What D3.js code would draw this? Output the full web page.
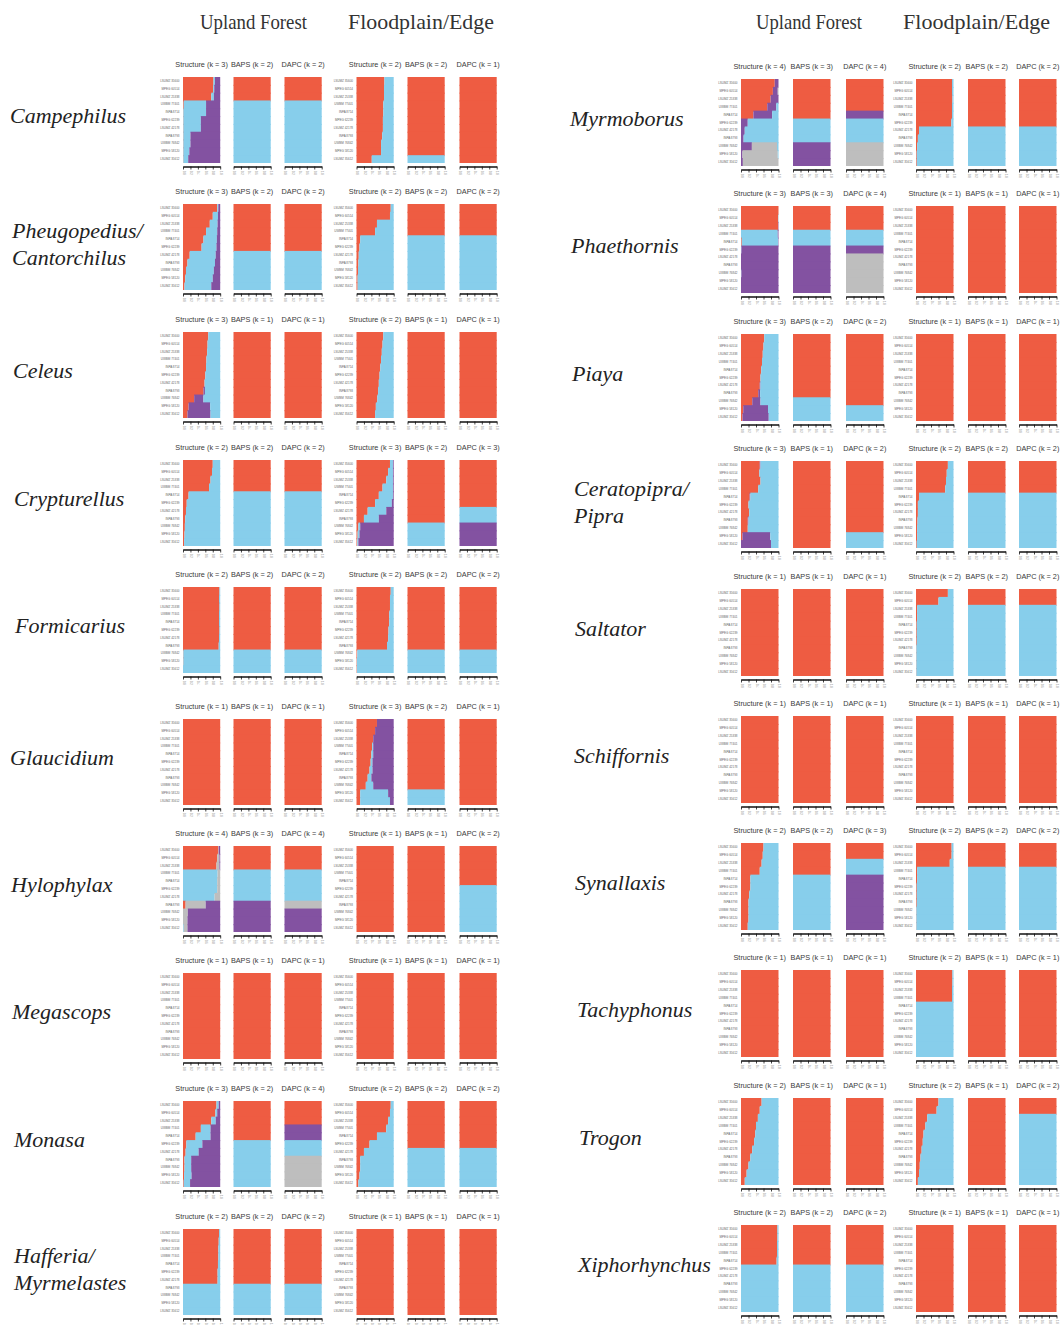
<!DOCTYPE html>
<html>
<head>
<meta charset="utf-8">
<script src="https://cdn.jsdelivr.net/npm/d3@7"></script>
<style>
  body { margin: 0; background: #fff; }
  svg { display: block; }
</style>
</head>
<body>
<svg id="chart" width="1063" height="1325"></svg>
<script>
// Cluster colours: cluster 1 red, 2 blue, 3 purple, 4 grey
const palette = ["#EE5C42", "#87CEEB", "#8352A1", "#BEBEBE"];
const methods = ["Structure", "BAPS", "DAPC"];
const habitats = ["Upland Forest", "Floodplain/Edge"];
const tickValues = [0, 0.2, 0.4, 0.6, 0.8, 1.0];

const generaLeft = ["Campephilus", "Pheugopedius/|Cantorchilus", "Celeus", "Crypturellus", "Formicarius",
  "Glaucidium", "Hylophylax", "Megascops", "Monasa", "Hafferia/|Myrmelastes"];
const generaRight = ["Myrmoborus", "Phaethornis", "Piaya", "Ceratopipra/|Pipra", "Saltator",
  "Schiffornis", "Synallaxis", "Tachyphonus", "Trogon", "Xiphorhynchus"];

// k per panel: Upland Structure, BAPS, DAPC, Floodplain Structure, BAPS, DAPC
const kLeft = [[3,2,2,2,2,1],[3,2,2,2,2,2],[3,1,1,2,1,1],[2,2,2,3,2,3],[2,2,2,2,2,2],
  [1,1,1,3,2,1],[4,3,4,1,1,2],[1,1,1,1,1,1],[3,2,4,2,2,2],[2,2,2,1,1,1]];
const kRight = [[4,3,4,2,2,2],[3,3,4,1,1,1],[3,2,2,1,1,1],[3,1,2,2,2,2],[1,1,1,2,2,2],
  [1,1,1,1,1,1],[2,2,3,2,2,2],[1,1,1,2,1,1],[2,1,1,2,1,2],[2,2,2,1,1,1]];

// Voucher labels printed beside the Structure bars
const voucherIds = ["LSUMZ 35600","MPEG 60514","LSUMZ 25338","UWBM 77401","INPA 8714","MPEG 62239",
  "LSUMZ 42178","INPA 8793","UWBM 76842","MPEG 58120","LSUMZ 35612","MPEG 60787"];

// Single-cluster assignment for every individual
const oneCluster = [0,0,0,0,0,0,0,0,0,0,0];

// Each genus: [Upland Structure q, Upland BAPS, Upland DAPC, Floodplain Structure q, Floodplain BAPS, Floodplain DAPC]
// Structure panels hold membership proportions per individual; BAPS/DAPC hold cluster assignments.
const campephilus = [
  [[.82,.04,.14],[.81,.03,.16],[.76,.07,.17],[.02,.60,.38],[.01,.61,.38],[.01,.47,.52],[.01,.47,.52],[.01,.19,.80],[.01,.19,.80],[.01,.16,.83],[.01,.13,.86]],
  [0,0,0,1,1,1,1,1,1,1,1],
  [0,0,0,1,1,1,1,1,1,1,1],
  [[.75,.25],[.74,.26],[.74,.26],[.72,.28],[.72,.28],[.71,.29],[.71,.29],[.69,.31],[.66,.34],[.66,.34],[.41,.59]],
  [0,0,0,0,0,0,0,0,0,0,1],
  oneCluster
];
const pheugopedius = [
  [[.92,.03,.05],[.80,.14,.06],[.72,.21,.07],[.62,.30,.08],[.55,.36,.09],[.50,.40,.10],[.18,.70,.12],[.12,.74,.14],[.08,.75,.17],[.06,.74,.20],[.04,.72,.24]],
  [0,0,0,0,0,0,1,1,1,1,1],
  [0,0,0,0,0,0,1,1,1,1,1],
  [[.92,.08],[.90,.10],[.55,.45],[.50,.50],[.10,.90],[.08,.92],[.06,.94],[.05,.95],[.04,.96],[.03,.97],[.03,.97]],
  [0,0,0,0,1,1,1,1,1,1,1],
  [0,0,0,0,1,1,1,1,1,1,1]
];
const celeus = [
  [[.68,0,.32],[.66,0,.34],[.65,0,.35],[.63,0,.37],[.62,0,.38],[.60,0,.40],[.58,0,.42],[.55,.04,.41],[.30,.25,.45],[.15,.58,.27],[.12,.62,.26]],
  oneCluster, oneCluster,
  [[.72,.28],[.70,.30],[.68,.32],[.66,.34],[.64,.36],[.62,.38],[.60,.40],[.58,.42],[.56,.44],[.52,.48],[.50,.50]],
  oneCluster, oneCluster
];
const crypturellus = [
  [[.80,.20],[.78,.22],[.74,.26],[.70,.30],[.15,.85],[.10,.90],[.08,.92],[.06,.94],[.05,.95],[.04,.96],[.03,.97]],
  [0,0,0,0,1,1,1,1,1,1,1],
  [0,0,0,0,1,1,1,1,1,1,1],
  [[.90,.08,.02],[.85,.13,.02],[.80,.18,.02],[.70,.28,.02],[.60,.38,.02],[.50,.45,.05],[.30,.50,.20],[.20,.40,.40],[.05,.05,.90],[.03,.05,.92],[.02,.03,.95]],
  [0,0,0,0,0,0,0,0,1,1,1],
  [0,0,0,0,0,0,1,1,2,2,2]
];
const formicarius = [
  [[.98,.02],[.97,.03],[.98,.02],[.97,.03],[.97,.03],[.98,.02],[.97,.03],[.96,.04],[.01,.99],[.01,.99],[0,1]],
  [0,0,0,0,0,0,0,0,1,1,1],
  [0,0,0,0,0,0,0,0,1,1,1],
  [[.92,.08],[.90,.10],[.90,.10],[.88,.12],[.88,.12],[.86,.14],[.85,.15],[.82,.18],[.02,.98],[.01,.99],[.01,.99]],
  [0,0,0,0,0,0,0,0,1,1,1],
  [0,0,0,0,0,0,0,0,1,1,1]
];
const glaucidium = [
  oneCluster, oneCluster, oneCluster,
  [[.55,0,.45],[.50,0,.50],[.45,0,.55],[.42,.03,.55],[.40,.05,.55],[.38,.05,.57],[.35,.08,.57],[.30,.10,.60],[.25,.20,.55],[.10,.75,.15],[.10,.80,.10]],
  [0,0,0,0,0,0,0,0,0,1,1],
  oneCluster
];
const hylophylax = [
  [[.95,0,.01,.04],[.92,0,.06,.02],[.90,0,.08,.02],[0,.93,.07,0],[0,.92,.08,0],[0,.92,.08,0],[0,.85,.15,0],[.07,0,.54,.39],[0,0,.13,.87],[0,0,.12,.88],[0,.02,.10,.88]],
  [0,0,0,1,1,1,1,2,2,2,2],
  [0,0,0,1,1,1,1,3,2,2,2],
  oneCluster, oneCluster,
  [0,0,0,0,0,1,1,1,1,1,1]
];
const megascops = [oneCluster, oneCluster, oneCluster, oneCluster, oneCluster, oneCluster];
const monasa = [
  [[.90,.06,.04],[.87,.05,.08],[.76,.12,.12],[.48,.26,.26],[.34,.40,.26],[.09,.43,.48],[.07,.35,.58],[.04,.18,.78],[.04,.18,.78],[.03,.20,.77],[.02,.17,.81]],
  [0,0,0,0,0,1,1,1,1,1,1],
  [0,0,0,2,2,1,1,3,3,3,3],
  [[.92,.08],[.90,.10],[.85,.15],[.80,.20],[.55,.45],[.35,.65],[.20,.80],[.10,.90],[.10,.90],[.08,.92],[.05,.95]],
  [0,0,0,0,0,0,1,1,1,1,1],
  [0,0,0,0,0,0,1,1,1,1,1]
];
const hafferia = [
  [[.97,.03],[.96,.04],[.95,.05],[.95,.05],[.94,.06],[.93,.07],[.93,.07],[0,1],[0,1],[0,1],[0,1]],
  [0,0,0,0,0,0,0,1,1,1,1],
  [0,0,0,0,0,0,0,1,1,1,1],
  oneCluster, oneCluster, oneCluster
];

const myrmoborus = [
  [[.90,.10,0,0],[.85,.13,.02,0],[.79,.21,0,0],[.70,.24,0,.06],[.33,.50,0,.17],[0,.18,0,.82],[0,.10,0,.90],[0,.07,0,.93],[0,.29,.67,.04],[0,.04,.94,.02],[0,.05,.95,0]],
  [0,0,0,0,0,1,1,1,2,2,2],
  [0,0,0,0,2,1,1,1,3,3,3],
  [[.96,.04],[.96,.04],[.97,.03],[.96,.04],[.96,.04],[.94,.06],[.08,.92],[.05,.95],[.03,.97],[.02,.98],[.02,.98]],
  [0,0,0,0,0,0,1,1,1,1,1],
  [0,0,0,0,0,0,1,1,1,1,1]
];
const phaethornis = [
  [[1,0,0],[.99,.01,0],[.99,0,.01],[0,.98,.02],[.02,.97,.01],[0,.01,.99],[0,0,1],[0,0,1],[0,.01,.99],[0,0,1],[0,0,1]],
  [0,0,0,1,1,2,2,2,2,2,2],
  [0,0,0,1,1,2,3,3,3,3,3],
  oneCluster, oneCluster, oneCluster
];
const piaya = [
  [[.62,0,.38],[.60,0,.40],[.58,0,.42],[.56,0,.44],[.54,0,.46],[.52,0,.48],[.50,.02,.48],[.46,.05,.49],[.30,.22,.48],[.06,.66,.28],[.04,.70,.26]],
  [0,0,0,0,0,0,0,0,1,1,1],
  [0,0,0,0,0,0,0,0,0,1,1],
  oneCluster, oneCluster, oneCluster
];
const ceratopipra = [
  [[.50,.02,.48],[.49,0,.51],[.52,0,.48],[.46,0,.54],[.23,.02,.75],[.20,0,.80],[.22,0,.78],[.18,.02,.80],[.18,0,.82],[.04,.74,.22],[0,.80,.20]],
  oneCluster,
  [0,0,0,0,0,0,0,0,0,1,1],
  [[.85,.15],[.82,.18],[.80,.20],[.78,.22],[.08,.92],[.05,.95],[.05,.95],[.04,.96],[.03,.97],[.03,.97],[.02,.98]],
  [0,0,0,0,1,1,1,1,1,1,1],
  [0,0,0,0,1,1,1,1,1,1,1]
];
const saltator = [
  oneCluster, oneCluster, oneCluster,
  [[.85,.15],[.60,.40],[.03,.97],[.03,.97],[.02,.98],[.02,.98],[.02,.98],[.01,.99],[.01,.99],[.01,.99],[.01,.99]],
  [0,0,1,1,1,1,1,1,1,1,1],
  [0,0,1,1,1,1,1,1,1,1,1]
];
const schiffornis = [oneCluster, oneCluster, oneCluster, oneCluster, oneCluster, oneCluster];
const synallaxis = [
  [[.60,.40],[.58,.42],[.55,.45],[.50,.50],[.25,.75],[.25,.75],[.22,.78],[.20,.80],[.20,.80],[.20,.80],[.18,.82]],
  [0,0,0,0,1,1,1,1,1,1,1],
  [0,0,1,1,2,2,2,2,2,2,2],
  [[.95,.05],[.95,.05],[.90,.10],[.03,.97],[.03,.97],[.02,.98],[.02,.98],[.02,.98],[.01,.99],[.01,.99],[.01,.99]],
  [0,0,0,1,1,1,1,1,1,1,1],
  [0,0,0,1,1,1,1,1,1,1,1]
];
const tachyphonus = [
  oneCluster, oneCluster, oneCluster,
  [[.97,.03],[.97,.03],[.96,.04],[.96,.04],[0,1],[0,1],[0,1],[0,1],[0,1],[0,1],[0,1]],
  oneCluster, oneCluster
];
const trogon = [
  [[.55,.45],[.50,.50],[.45,.55],[.40,.60],[.38,.62],[.35,.65],[.30,.70],[.25,.75],[.20,.80],[.15,.85],[.10,.90]],
  oneCluster, oneCluster,
  [[.60,.40],[.55,.45],[.30,.70],[.25,.75],[.20,.80],[.18,.82],[.15,.85],[.12,.88],[.10,.90],[.08,.92],[.05,.95]],
  oneCluster,
  [0,0,1,1,1,1,1,1,1,1,1]
];
const xiphorhynchus = [
  [[.97,.03],[.97,.03],[.96,.04],[.96,.04],[.95,.05],[0,1],[0,1],[0,1],[0,1],[0,1],[0,1]],
  [0,0,0,0,0,1,1,1,1,1,1],
  [0,0,0,0,0,1,1,1,1,1,1],
  oneCluster, oneCluster, oneCluster
];

const dataLeft = [campephilus, pheugopedius, celeus, crypturellus, formicarius, glaucidium, hylophylax, megascops, monasa, hafferia];
const dataRight = [myrmoborus, phaethornis, piaya, ceratopipra, saltator, schiffornis, synallaxis, tachyphonus, trogon, xiphorhynchus];

// Stacking order of clusters inside Structure bars (default red, blue, purple, grey)
const stackOrder = {
  "Hylophylax-0": [0,1,3,2],
  "Myrmoborus-0": [0,2,3,1],
  "Celeus-0": [0,2,1],
  "Piaya-0": [0,2,1],
  "Ceratopipra/|Pipra-0": [0,2,1]
};

// ---------- layout ----------
const svg = d3.select("#chart");
const layout = {
  left:  { xs: [183, 233.5, 284.5, 356.5, 407.5, 459.5], w: 37.2, titleY: [63, 190, 318, 446, 573, 705, 832, 959, 1087, 1215], h: 86,
           labelX: [10, 12, 13, 14, 15, 10, 11, 12, 14, 14],
           headerX: [[200, 107], [348, 146]] },
  right: { xs: [741, 793, 846, 916, 968, 1019], w: 37.5, titleY: [65, 192, 320, 447, 575, 702, 829, 956, 1084, 1211], h: 87,
           labelX: [570, 571, 572, 574, 575, 574, 575, 577, 579, 578],
           headerX: [[756, 106], [903, 147]] }
};

function drawPanel(g, x0, w, top, h, panel, order, title, showIds) {
  const isAssign = typeof panel[0] === "number";
  const rows = isAssign ? panel.map(c => { const r = [0,0,0,0]; r[c] = 1; return r; }) : panel;
  const ord = isAssign ? [0,1,2,3] : (order || [0,1,2,3]);
  const x = d3.scaleLinear().domain([0, 1]).range([x0, x0 + w]);
  const y = d3.scaleBand().domain(d3.range(rows.length)).range([top, top + h]);

  // title
  g.append("text")
    .attr("x", x0 + w / 2).attr("y", top - 10.5)
    .attr("text-anchor", "middle")
    .attr("font-family", "'Liberation Sans', Arial, sans-serif")
    .attr("font-size", 7.3).attr("fill", "#3a3a3a")
    .text(title);

  // stacked membership bars, one row per individual; each row overlaps the next by
  // one pixel so that adjacent rows of the same colour join without a seam
  const bars = g.append("g");
  rows.forEach((r, i) => {
    let acc = 0;
    const last = i === rows.length - 1;
    r.forEach((v, j) => {
      if (v <= 0) return;
      bars.append("rect")
        .attr("x", x(acc)).attr("y", y(i))
        .attr("width", Math.max(0, x(Math.min(1, acc + v)) - x(acc)))
        .attr("height", y.bandwidth() + (last ? 0 : 1))
        .attr("fill", palette[ord[j]]);
      acc += v;
    });
  });

  if (showIds) {
    rows.forEach((r, i) => {
      g.append("text")
        .attr("x", x0 - 3.5).attr("y", y(i) + y.bandwidth() / 2 + 1)
        .attr("text-anchor", "end")
        .attr("font-family", "'Liberation Sans', Arial, sans-serif")
        .attr("font-size", 3).attr("fill", "#666")
        .text(voucherIds[i % voucherIds.length]);
    });
  }

  const axis = d3.axisBottom(x).tickValues(tickValues).tickSize(3).tickSizeOuter(0)
    .tickFormat(d3.format(".1f"));
  const ga = g.append("g").attr("transform", `translate(0,${top + h + 3.5})`).call(axis);
  ga.select(".domain").attr("stroke", "#111").attr("stroke-width", 1.4);
  ga.selectAll(".tick line").attr("stroke", "#111").attr("stroke-width", 0.8);
  ga.selectAll(".tick text")
    .attr("font-size", 2.6).attr("fill", "#777")
    .attr("font-family", "'Liberation Sans', Arial, sans-serif")
    .attr("transform", "rotate(90)")
    .attr("x", 4.5).attr("y", 0).attr("dy", "0.35em")
    .attr("text-anchor", "start");
}

function drawColumn(side, genera, kList, dataList) {
  const L = layout[side];
  const g = svg.append("g");

  // habitat headers
  habitats.forEach((hb, i) => {
    g.append("text")
      .attr("x", L.headerX[i][0]).attr("y", 29)
      .attr("textLength", L.headerX[i][1]).attr("lengthAdjust", "spacingAndGlyphs")
      .attr("font-family", "'Liberation Serif', 'Times New Roman', serif")
      .attr("font-size", 22).attr("fill", "#333")
      .text(hb);
  });

  genera.forEach((name, gi) => {
    const top = L.titleY[gi] + 14;
    const mid = top + L.h / 2;
    const lines = name.split("|");
    const lx = L.labelX[gi];
    const lab = g.append("text")
      .attr("font-family", "'Liberation Serif', 'Times New Roman', serif")
      .attr("font-style", "italic").attr("font-size", 22).attr("fill", "#222");
    if (lines.length === 1) {
      lab.append("tspan").attr("x", lx).attr("y", mid + 3).text(lines[0]);
    } else {
      lab.append("tspan").attr("x", lx).attr("y", mid - 9).text(lines[0]);
      lab.append("tspan").attr("x", lx).attr("y", mid + 18).text(lines[1]);
    }

    dataList[gi].forEach((panel, pi) => {
      const method = methods[pi % 3];
      const title = `${method} (k = ${kList[gi][pi]})`;
      const order = stackOrder[`${name}-${pi}`];
      drawPanel(g, L.xs[pi], L.w, top, L.h, panel, order, title, method === "Structure");
    });
  });
}

drawColumn("left", generaLeft, kLeft, dataLeft);
drawColumn("right", generaRight, kRight, dataRight);
</script>
</body>
</html>
